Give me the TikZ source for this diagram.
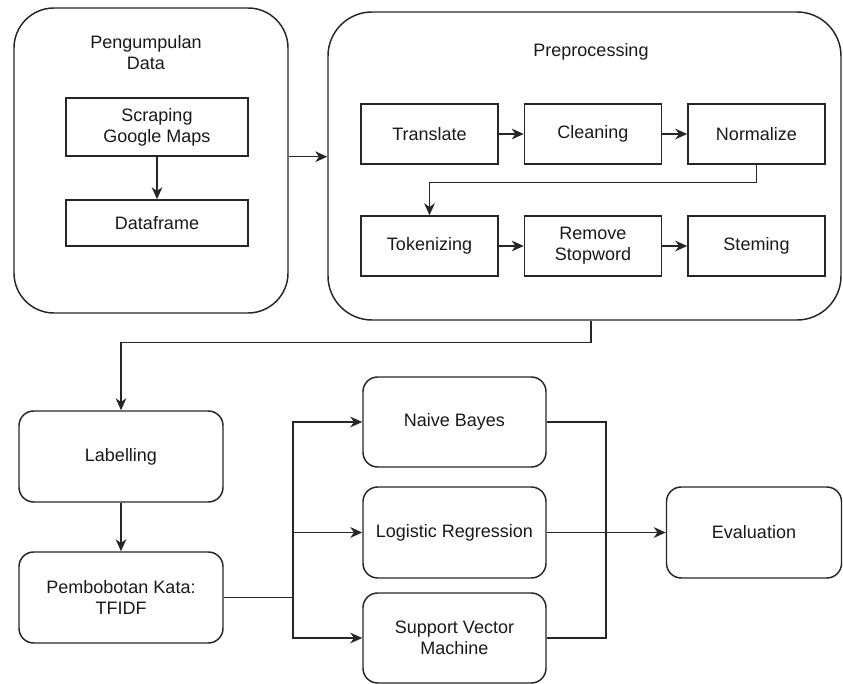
\documentclass[tikz,border=0pt]{standalone}
\usepackage{fontspec}
\setmainfont{Liberation Sans}
\usetikzlibrary{arrows.meta,calc}
\begin{document}
\begin{tikzpicture}[x=0.75pt,y=-0.75pt,
  every node/.style={font=\fontsize{13.5}{15.8}\selectfont, align=center, inner sep=0pt, text=black!90},
  container/.style={draw=black!85, line width=1.1pt, rounded corners=30pt},
  sqbox/.style={draw=black!85, line width=1.1pt, minimum width=102.75pt, minimum height=45pt},
  rbox/.style={draw=black!85, line width=1.1pt, rounded corners=11pt, minimum width=137.25pt, minimum height=67.5pt},
  conn/.style={draw=black!85, line width=1.1pt},
  arr/.style={conn, -{Stealth[length=9pt,width=8pt,inset=2.8pt]}}
]
\useasboundingbox (0,0) rectangle (843,684);
% containers
\node[container, minimum width=205.5pt, minimum height=228.75pt] (c1) at (151,160.5) {};
\node[container, rounded corners=33pt, minimum width=384.75pt, minimum height=231pt] (c2) at (584.5,166) {};
\node (t1) at (146,52.5) {Pengumpulan\\Data};
\node (t2) at (591,52) {Preprocessing};
% data collection
\node[sqbox, minimum width=136.5pt, minimum height=43.5pt] (scrap) at (157,127) {Scraping\\Google Maps};
\node[sqbox, minimum width=136.5pt, minimum height=34.5pt] (df) at (157,223) {Dataframe};
% preprocessing
\node[sqbox] (tr) at (429.5,134) {Translate};
\node[sqbox] (cl) at (593,134) {Cleaning};
\node[sqbox] (no) at (756.5,134) {Normalize};
\node[sqbox] (tok) at (429.5,246) {Tokenizing};
\node[sqbox] (rs) at (593,246) {Remove\\Stopword};
\node[sqbox] (st) at (756.5,246) {Steming};
% lower part
\node[rbox, minimum width=153pt, minimum height=68.25pt] (lab) at (121,456.5) {Labelling};
\node[rbox, minimum width=153pt, minimum height=68.25pt] (pem) at (121,597.5) {Pembobotan Kata:\\TFIDF};
\node[rbox] (nb) at (454.5,422) {Naive Bayes};
\node[rbox, minimum height=68.25pt] (lr) at (454.5,532.5) {Logistic Regression};
\node[rbox] (svm) at (454.5,638) {Support Vector\\Machine};
\node[rbox, minimum width=131.25pt, minimum height=68.25pt] (ev) at (754,532.5) {Evaluation};
\coordinate (split) at (293,597.5);
\coordinate (join) at (606,532.5);
% connectors
\draw[arr] (scrap.south) -- (df.north);
\draw[arr] (c1.east |- scrap.south) -- (c2.west |- scrap.south);
\draw[arr] (tr.east) -- (cl.west);
\draw[arr] (cl.east) -- (no.west);
\draw[arr] (no.south) -- ++(0,18) -| (tok.north);
\draw[arr] (tok.east) -- (rs.west);
\draw[arr] (rs.east) -- (st.west);
\draw[arr] (t2.center |- c2.south) -- ++(0,22) -| (lab.north);
\draw[arr] (lab.south) -- (pem.north);
\draw[conn] (pem.east) -- (split);
\draw[arr] (split) |- (nb.west);
\draw[arr] (split) |- (lr.west);
\draw[arr] (split) |- (svm.west);
\draw[conn] (nb.east) -| (join);
\draw[conn] (svm.east) -| (join);
\draw[arr] (lr.east) -- (ev.west);
\end{tikzpicture}
\end{document}
